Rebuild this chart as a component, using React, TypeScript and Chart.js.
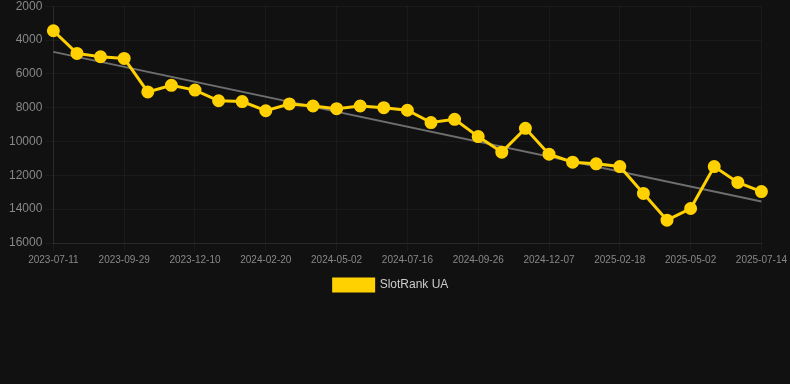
import React, { useEffect, useRef } from "react";
import { Chart, registerables } from "chart.js";

Chart.register(...registerables);

const labels: string[] = [
  "2023-07-11", "2023-08-07", "2023-09-02", "2023-09-29", "2023-10-23", "2023-11-16",
  "2023-12-10", "2024-01-03", "2024-01-27", "2024-02-20", "2024-03-15", "2024-04-08",
  "2024-05-02", "2024-05-27", "2024-06-21", "2024-07-16", "2024-08-09", "2024-09-02",
  "2024-09-26", "2024-10-20", "2024-11-13", "2024-12-07", "2024-12-31", "2025-01-25",
  "2025-02-18", "2025-03-14", "2025-04-08", "2025-05-02", "2025-05-26", "2025-06-19",
  "2025-07-14",
];

const rankValues: number[] = [
  3450, 4790, 4990, 5090, 7070, 6680, 6960, 7590, 7640, 8180, 7780, 7900, 8060, 7900,
  8000, 8150, 8880, 8690, 9710, 10630, 9220, 10750, 11220, 11320, 11480, 13070, 14650,
  13960, 11480, 12420, 12960,
];

const trendStart = 4700;
const trendEnd = 13550;

const yMin = 2000;
const yMax = 16000;
const yStep = 2000;

const seriesName = "SlotRank UA";

export default function App() {
  const ref = useRef<HTMLCanvasElement | null>(null);

  useEffect(() => {
    document.body.style.margin = "0";
    document.body.style.background = "#111111";
    document.body.style.overflow = "hidden";
    const trend: (number | null)[] = labels.map((_, i) =>
      i === 0 ? trendStart : i === labels.length - 1 ? trendEnd : null
    );
    const chart = new Chart(ref.current as HTMLCanvasElement, {
      type: "line",
      data: {
        labels,
        datasets: [
          {
            label: seriesName,
            data: rankValues,
            borderColor: "#FFD100",
            backgroundColor: "#FFD100",
            borderWidth: 3,
            pointRadius: 5,
            pointHoverRadius: 5,
            pointBackgroundColor: "#FFD100",
            pointBorderColor: "#FFD100",
            tension: 0,
            order: 1,
          },
          {
            label: "trend",
            data: trend,
            borderColor: "#6e6e6e",
            backgroundColor: "#6e6e6e",
            borderWidth: 2,
            pointRadius: 0,
            spanGaps: true,
            order: 2,
          },
        ],
      },
      options: {
        animation: false,
        responsive: true,
        maintainAspectRatio: false,
        layout: { padding: { left: 6, right: 14 } },
        plugins: {
          legend: {
            position: "bottom",
            labels: {
              color: "#cccccc",
              font: { size: 12, family: "'Liberation Sans', Arial, sans-serif" },
              boxWidth: 40,
              boxHeight: 12,
              filter: (item) => item.text !== "trend",
            },
          },
          tooltip: { enabled: false },
        },
        scales: {
          x: {
            grid: { color: "rgba(255,255,255,0.04)", tickLength: 8 },
            border: { color: "rgba(255,255,255,0.07)" },
            ticks: {
              color: "#888888",
              font: { size: 10, family: "'Liberation Sans', Arial, sans-serif" },
              maxRotation: 0,
              autoSkip: true,
              maxTicksLimit: 11,
            },
          },
          y: {
            reverse: true,
            min: yMin,
            max: yMax,
            grid: { color: "rgba(255,255,255,0.04)", tickLength: 8 },
            border: { color: "rgba(255,255,255,0.07)" },
            ticks: {
              stepSize: yStep,
              color: "#888888",
              font: { size: 12, family: "'Liberation Sans', Arial, sans-serif" },
              callback: (v) => String(v),
            },
          },
        },
      },
    });
    return () => chart.destroy();
  }, []);

  return (
    <div style={{ width: 790, height: 305, marginTop: -4, position: "relative" }}>
      <canvas ref={ref} />
    </div>
  );
}
